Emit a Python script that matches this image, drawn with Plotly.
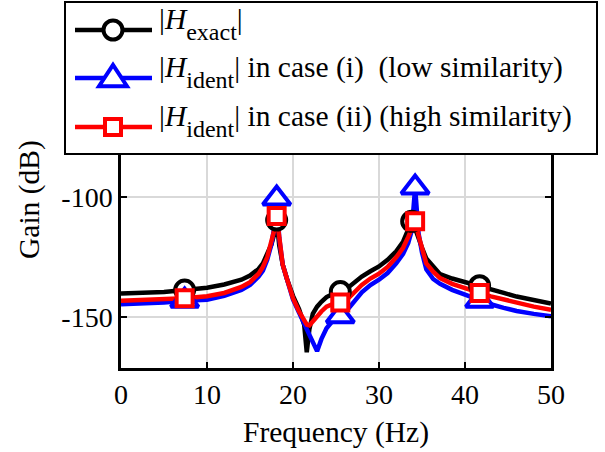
import plotly.graph_objects as go

# ---------------- data ----------------
freq = [0, 2.5, 5, 7.4, 10, 12, 14, 15, 16, 16.5, 17, 17.5, 17.8, 18.1, 18.4, 18.8,
        19.3, 20, 20.7, 21.3, 21.6, 21.9, 22.3, 22.8, 23.3, 23.9, 24.6, 25.5, 26.5,
        28, 29, 30, 31, 32, 32.8, 33.4, 33.8, 34.2, 34.6, 35, 35.5, 36.3, 37.1, 38.5,
        40, 41.7, 43, 44.5, 46, 48, 50]

h_exact = [-140, -139.8, -139.4, -138.6, -137.6, -136.3, -134.3, -132.6, -129.8, -127.5,
           -124, -119.5, -115.5, -109.5, -120, -128, -134, -141, -146.5, -153, -164.5,
           -155, -148.5, -145.5, -143.5, -141.5, -140.3, -139.2, -137.3, -133, -130.8,
           -128.8, -126, -122.5, -118.5, -114, -110, -113, -117.5, -121, -125.5, -129,
           -132, -133.8, -135.2, -136.8, -138.2, -139.8, -141.3, -142.8, -144.2]

h_ident_i = [-144.5, -144.3, -143.8, -143, -142.6, -141, -138.5, -136.5, -133, -130.5,
             -126, -119.5, -113, -100.5, -117, -128, -134.5, -142.5, -148, -152.5, -154.5,
             -156.5, -160, -164, -159, -154.5, -151.5, -149.5, -146, -139.5, -136.5,
             -134.3, -131.5, -127.5, -123.5, -119, -114, -96, -115, -123, -130, -134,
             -136, -138.5, -140.5, -143, -144.5, -146, -147.3, -148.5, -149.5]

h_ident_ii = [-143, -142.8, -142.4, -142, -141.2, -139.8, -137.3, -135.3, -131.8, -129,
              -125, -119, -114, -107.8, -118, -128, -134, -142, -147.5, -151.5, -153,
              -153.3, -151.5, -149.5, -147.5, -145.5, -144.5, -143.8, -141.8, -136.5,
              -133.8, -131.8, -129, -125, -121, -116.5, -113, -110, -116, -122, -127.5,
              -131, -133.6, -136, -138, -139.8, -141.2, -142.6, -144, -145.5, -146.8]

mk_freq_exact = [7.4, 18.1, 25.5, 33.8, 41.7]
mk_exact = [-138.6, -109.5, -139.2, -110, -136.8]
mk_freq_ident = [7.4, 18.1, 25.5, 34.2, 41.7]
mk_ident_i = [-143, -100.5, -149.5, -96, -143]
mk_ident_ii = [-142, -107.8, -143.8, -110, -139.8]

x_ticks = [0, 10, 20, 30, 40, 50]
y_ticks = [-150, -100]
y_tick_text = ["-150", "-100"]

SUB = '<sub><span style="font-size:24px;baseline-shift:-5px">{}</span></sub>'
legend_labels = ["|<i>H</i>" + SUB.format("exact") + "|",
                 "|<i>H</i>" + SUB.format("ident") + "| in case (i)\u00a0 (low similarity)",
                 "|<i>H</i>" + SUB.format("ident") + "| in case (ii) (high similarity)"]

# ---------------- layout geometry ----------------
W, H = 605, 452
L, R, T, B = 121, 54, 101, 84
PW, PH = W - L - R, H - T - B
FONT = "Liberation Serif, Times New Roman, serif"
FS = 29.5

def px(x):
    return (x - L) / PW

def py(y):
    return (H - B - y) / PH

colors = ["black", "blue", "red"]
LW = 4.5

fig = go.Figure()
series = [(freq, h_exact, mk_freq_exact, mk_exact, "circle", 19),
          (freq, h_ident_i, mk_freq_ident, mk_ident_i, "triangle-up", 24),
          (freq, h_ident_ii, mk_freq_ident, mk_ident_ii, "square", 16)]
for (fx, fy, mx, my, sym, sz), c in zip(series, colors):
    fig.add_trace(go.Scatter(x=fx, y=fy, mode="lines", line=dict(color=c, width=LW),
                             showlegend=False, hoverinfo="skip"))
for (fx, fy, mx, my, sym, sz), c in zip(series, colors):
    fig.add_trace(go.Scatter(x=mx, y=my, mode="markers",
                             marker=dict(symbol=sym, size=sz, color="white",
                                         line=dict(color=c, width=4)),
                             showlegend=False, hoverinfo="skip"))

axis_common = dict(showline=True, linecolor="black", linewidth=2.5, mirror="ticks",
                   ticks="inside", ticklen=6, tickwidth=2, tickcolor="black",
                   showgrid=True, gridcolor="#d9d9d9", gridwidth=1.5, zeroline=False,
                   tickfont=dict(family=FONT, size=28, color="black"))

fig.update_xaxes(range=[0, 50], tickvals=x_ticks, ticklabelstandoff=0,
                 title=dict(text="Frequency (Hz)", font=dict(family=FONT, size=FS, color="black"),
                            standoff=13),
                 **axis_common)
fig.update_yaxes(range=[-171, -60], tickvals=y_ticks, ticktext=y_tick_text,
                 ticklabelstandoff=0, **axis_common)

shapes = []
annotations = []
# legend box
shapes.append(dict(type="rect", xref="paper", yref="paper", x0=px(65), x1=px(597),
                   y0=py(154), y1=py(2), fillcolor="white",
                   line=dict(color="black", width=2), layer="above"))
rows_y = [30, 78, 127]
mx_c = 113
for i, (yy, c) in enumerate(zip(rows_y, colors)):
    shapes.append(dict(type="line", xref="paper", yref="paper", x0=px(75), x1=px(152),
                       y0=py(yy), y1=py(yy), line=dict(color=c, width=LW), layer="above"))
    if i == 0:
        r = 9.5
        shapes.append(dict(type="circle", xref="paper", yref="paper",
                           x0=px(mx_c - r), x1=px(mx_c + r), y0=py(yy + r), y1=py(yy - r),
                           fillcolor="white", line=dict(color=c, width=4), layer="above"))
    elif i == 1:
        hw, hh = 14, 11
        path = "M {},{} L {},{} L {},{} Z".format(px(mx_c - hw), py(yy + hh * 0.75),
                                                  px(mx_c + hw), py(yy + hh * 0.75),
                                                  px(mx_c), py(yy - hh * 1.2))
        shapes.append(dict(type="path", xref="paper", yref="paper", path=path,
                           fillcolor="white", line=dict(color=c, width=4), layer="above"))
    else:
        s = 8
        shapes.append(dict(type="rect", xref="paper", yref="paper",
                           x0=px(mx_c - s), x1=px(mx_c + s), y0=py(yy + s), y1=py(yy - s),
                           fillcolor="white", line=dict(color=c, width=4), layer="above"))
    annotations.append(dict(xref="paper", yref="paper", x=px(157), y=py(yy - 6),
                            xanchor="left", yanchor="middle", showarrow=False,
                            text=legend_labels[i],
                            font=dict(family=FONT, size=FS, color="black")))

annotations.append(dict(xref="paper", yref="paper", x=px(29), y=py(200),
                        xanchor="center", yanchor="middle", showarrow=False,
                        text="Gain (dB)", textangle=-90,
                        font=dict(family=FONT, size=FS, color="black")))

fig.update_layout(width=W, height=H, margin=dict(l=L, r=R, t=T, b=B, autoexpand=False),
                  plot_bgcolor="white", paper_bgcolor="white",
                  shapes=shapes, annotations=annotations, showlegend=False)

fig.write_html("out.html", config={"displayModeBar": False},
               post_script="document.body.style.margin='0px';document.body.style.overflow='hidden';")
